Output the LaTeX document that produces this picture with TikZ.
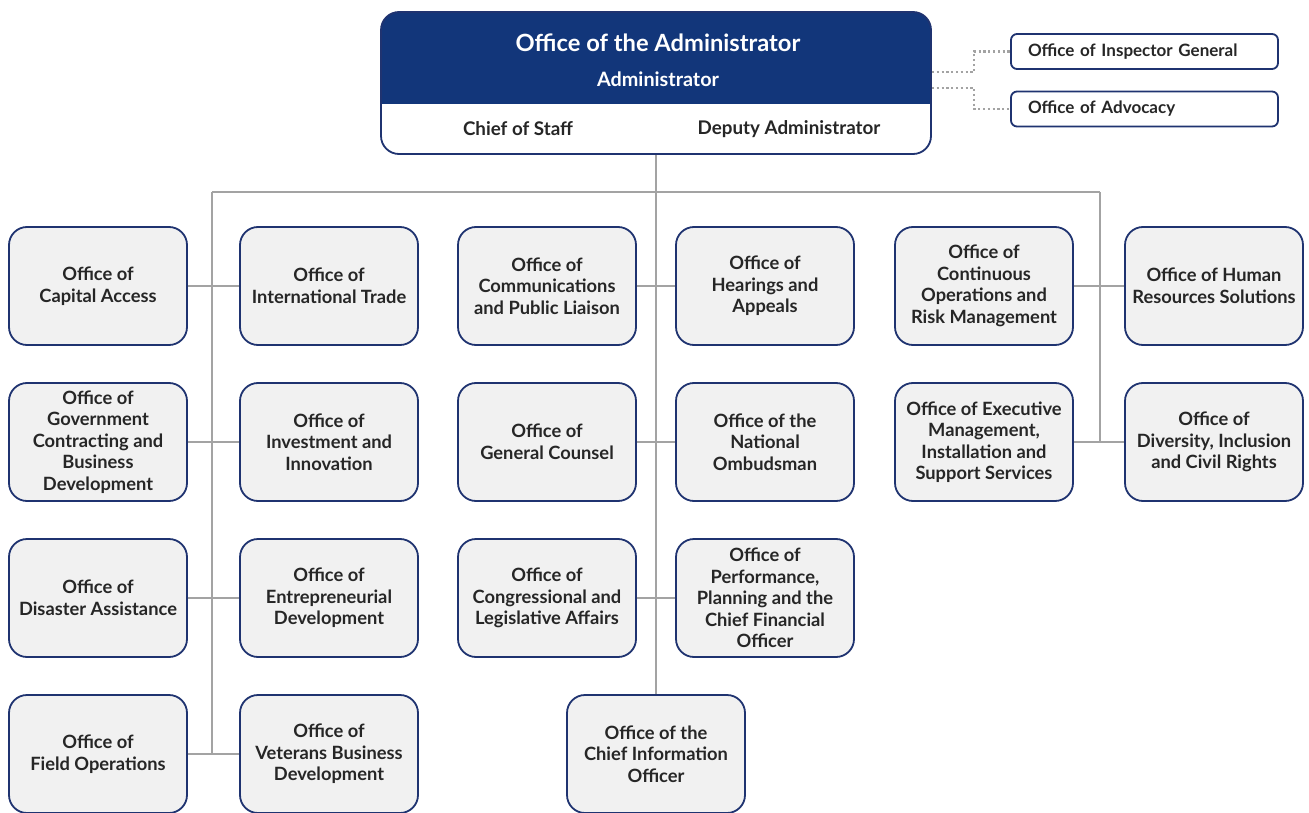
\documentclass[tikz,border=0pt]{standalone}
\usepackage{fontspec}
\setmainfont{Lato}
\definecolor{navyfill}{HTML}{12367A}
\definecolor{navyline}{HTML}{1F3370}
\definecolor{boxfill}{HTML}{F1F1F1}
\definecolor{linkgray}{HTML}{A3A3A3}
\definecolor{inkdark}{HTML}{262626}
\tikzset{
  office/.style={draw=navyline, line width=1.8pt, fill=boxfill, rounded corners=18pt,
    minimum width=178pt, minimum height=118pt, align=center, text=inkdark, inner sep=1pt,
    font=\fontsize{18.3pt}{21.5pt}\selectfont\bfseries},
  sidebox/.style={draw=navyline, line width=1.8pt, fill=white, rounded corners=6pt,
    minimum height=35pt, text width=233pt, align=left, inner xsep=17pt, text=inkdark,
    font=\fontsize{17pt}{20pt}\selectfont\bfseries},
  link/.style={draw=linkgray, line width=2.6pt},
  dotlink/.style={draw=linkgray, line width=2.2pt, dash pattern=on 2.2pt off 2.6pt},
  headtext/.style={font=\fontsize{#1}{#1}\selectfont\bfseries},
}
\begin{document}
\begin{tikzpicture}[x=1pt,y=-1pt]
\useasboundingbox (0,0) rectangle (1309,813);

% Administrator block: navy header over a white lower band
\node[draw=navyline, line width=1.8pt, fill=white, rounded corners=18pt,
      minimum width=550pt, minimum height=142pt,
      path picture={\fill[navyfill, sharp corners] (path picture bounding box.north west) rectangle
        ([yshift=-92pt]path picture bounding box.north east);}]
  (admin) at (656,83) {};
\node[text=white, headtext=23.7pt] (title) at (658,43) {Office of the Administrator};
\node[text=white, headtext=19.8pt] (adm) at (658,79) {Administrator};
\node[text=inkdark, headtext=18.8pt] (cos) at (518,129) {Chief of Staff};
\node[text=inkdark, headtext=18.8pt] (dep) at (789,129) {Deputy Administrator};

% Independent offices
\node[sidebox] (ig) at (1144.5,51.5) {Office of Inspector General};
\node[sidebox] (adv) at (1144.5,109) {Office of Advocacy};

% Office boxes
\node[office] (cap) at (98,286) {Office of\\Capital Access};
\node[office] (gov) at (98,442) {Office of\\Government\\Contracting and\\Business\\Development};
\node[office] (dis) at (98,598) {Office of\\Disaster Assistance};
\node[office] (fld) at (98,754) {Office of\\Field Operations};

\node[office] (itr) at (329,286) {Office of\\International Trade};
\node[office] (inv) at (329,442) {Office of\\Investment and\\Innovation};
\node[office] (ent) at (329,598) {Office of\\Entrepreneurial\\Development};
\node[office] (vet) at (329,754) {Office of\\Veterans Business\\Development};

\node[office] (com) at (547,286) {Office of\\Communications\\and Public Liaison};
\node[office] (gc)  at (547,442) {Office of\\General Counsel};
\node[office] (cla) at (547,598) {Office of\\Congressional and\\Legislative Affairs};

\node[office] (hea) at (765,286) {Office of\\Hearings and\\Appeals};
\node[office] (omb) at (765,442) {Office of the\\National\\Ombudsman};
\node[office] (cfo) at (765,598) {Office of\\Performance,\\Planning and the\\Chief Financial\\Officer};

\node[office] (cio) at (656,754) {Office of the\\Chief Information\\Officer};

\node[office] (cor) at (984,286) {Office of\\Continuous\\Operations and\\Risk Management};
\node[office] (exe) at (984,442) {Office of Executive\\Management,\\Installation and\\Support Services};

\node[office] (hr)  at (1214,286) {Office of Human\\Resources Solutions};
\node[office] (div) at (1214,442) {Office of\\Diversity, Inclusion\\and Civil Rights};

% Branch points of the tree
\coordinate (barL) at (212,192);
\coordinate (barR) at (1100,192);
\coordinate (endL) at (212,754);
\coordinate (endR) at (1100,442);

% Solid reporting lines
\path[link] (barL) -- (barR);
\path[link] (barL) -- (endL);
\path[link] (barR) -- (endR);
\path[link] (admin.south) -- (cio.north);
\path[link] (cap.east) -- (itr.west);
\path[link] (gov.east) -- (inv.west);
\path[link] (dis.east) -- (ent.west);
\path[link] (fld.east) -- (vet.west);
\path[link] (com.east) -- (hea.west);
\path[link] (gc.east) -- (omb.west);
\path[link] (cla.east) -- (cfo.west);
\path[link] (cor.east) -- (hr.west);
\path[link] (exe.east) -- (div.west);

% Dotted links to the independent offices
\path[dotlink] ([yshift=11pt]admin.east) -- ++(42,0) |- (ig.west);
\path[dotlink] ([yshift=-5pt]admin.east) -- ++(42,0) |- (adv.west);
\end{tikzpicture}
\end{document}
